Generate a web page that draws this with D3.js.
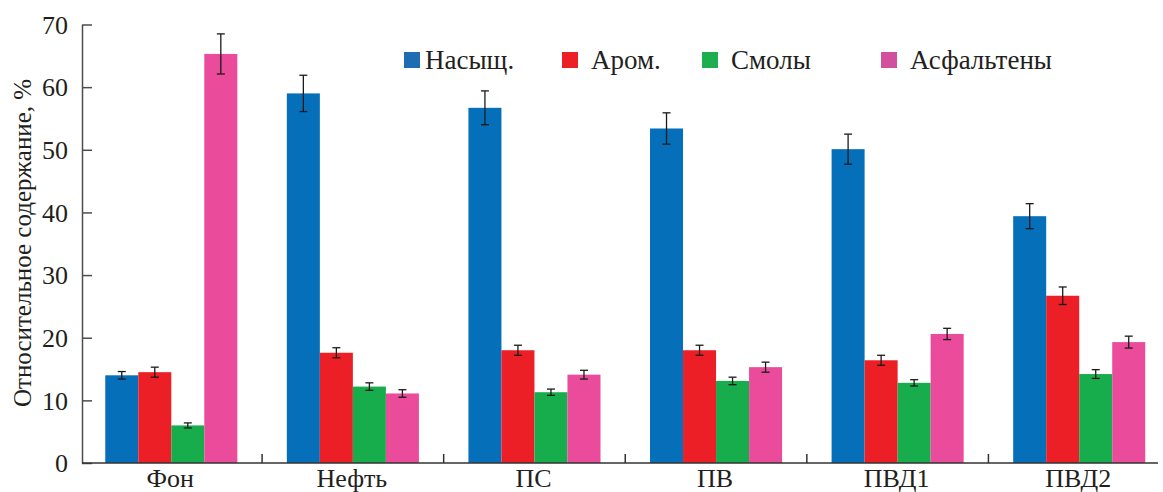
<!DOCTYPE html>
<html>
<head>
<meta charset="utf-8">
<script src="https://cdn.jsdelivr.net/npm/d3@7"></script>
<style>
  body { margin: 0; background: #fff; }
  svg text { font-family: "Liberation Serif", "Times New Roman", Tinos, "Noto Serif", "DejaVu Serif", serif; fill: #231f20; }
</style>
</head>
<body>
<svg id="chart"></svg>
<script>
// data
const categories = ["Фон", "Нефть", "ПС", "ПВ", "ПВД1", "ПВД2"];
const series = ["Насыщ.", "Аром.", "Смолы", "Асфальтены"];
const colors = ["#0570b9", "#ec1f27", "#17ad4d", "#ea4b9b"];
const legendColors = ["#1d6db3", "#ec1f27", "#1fae4d", "#d24f9d"];

const saturates = [14.0, 59.0, 56.7, 53.4, 50.1, 39.4];
const aromatics = [14.5, 17.6, 18.0, 18.0, 16.4, 26.7];
const resins = [6.0, 12.2, 11.3, 13.1, 12.8, 14.2];
const asphaltenes = [65.3, 11.1, 14.1, 15.3, 20.6, 19.3];

const errSat = [0.6, 2.9, 2.7, 2.5, 2.4, 2.0];
const errAro = [0.8, 0.8, 0.8, 0.8, 0.8, 1.4];
const errRes = [0.4, 0.6, 0.5, 0.6, 0.5, 0.7];
const errAsp = [3.2, 0.6, 0.7, 0.8, 0.9, 0.95];

const yTicks = [0, 10, 20, 30, 40, 50, 60, 70];

const values = [saturates, aromatics, resins, asphaltenes];
const errors = [errSat, errAro, errRes, errAsp];

const width = 1163, height = 492;
const svg = d3.select("#chart").attr("width", width).attr("height", height);
const serif = '"Liberation Serif", "Times New Roman", Tinos, "Noto Serif", "DejaVu Serif", serif';

const x = d3.scaleBand().domain(categories).range([80.5, 1170]);
const x1 = d3.scaleBand().domain(series).range([0, x.bandwidth()]).paddingOuter(0.75);
const y = d3.scaleLinear().domain([0, 70]).range([463, 24.5]);

// flatten into bar records
const bars = [];
categories.forEach((c, i) => {
  series.forEach((s, j) => {
    bars.push({ cat: c, ser: s, j: j, v: values[j][i], e: errors[j][i] });
  });
});

const g = svg.append("g");

g.selectAll("rect.bar")
  .data(bars)
  .join("rect")
  .attr("class", "bar")
  .attr("x", d => x(d.cat) + x1(d.ser))
  .attr("width", x1.bandwidth())
  .attr("y", d => y(d.v))
  .attr("height", d => y(0) - y(d.v))
  .attr("fill", d => colors[d.j]);

// error bars
const eb = g.selectAll("g.err").data(bars).join("g").attr("class", "err")
  .attr("stroke", "#1a1a1a").attr("stroke-width", 1.3);
const cx = d => x(d.cat) + x1(d.ser) + x1.bandwidth() / 2;
eb.append("line")
  .attr("x1", cx).attr("x2", cx)
  .attr("y1", d => y(d.v + d.e)).attr("y2", d => y(d.v - d.e));
eb.append("line")
  .attr("x1", d => cx(d) - 4).attr("x2", d => cx(d) + 4)
  .attr("y1", d => y(d.v + d.e)).attr("y2", d => y(d.v + d.e));
eb.append("line")
  .attr("x1", d => cx(d) - 4).attr("x2", d => cx(d) + 4)
  .attr("y1", d => y(d.v - d.e)).attr("y2", d => y(d.v - d.e));

// y axis
const yAxis = svg.append("g")
  .attr("transform", "translate(82,0)")
  .call(d3.axisLeft(y).tickValues(yTicks).tickSizeInner(-10).tickSizeOuter(0).tickPadding(14));
yAxis.attr("font-family", serif);
yAxis.select(".domain").attr("stroke", "#4d4d4d").attr("stroke-width", 1.5);
yAxis.selectAll(".tick line").attr("stroke", "#4d4d4d").attr("stroke-width", 1.5);
yAxis.selectAll(".tick text")
  .attr("font-size", 26)
  .attr("dy", "0.34em")
  .attr("fill", "#231f20");

// x axis line and separators
svg.append("line")
  .attr("x1", 82).attr("x2", 1158)
  .attr("y1", y(0)).attr("y2", y(0))
  .attr("stroke", "#333").attr("stroke-width", 1.5);
svg.selectAll("line.sep")
  .data(categories.slice(1))
  .join("line")
  .attr("class", "sep")
  .attr("x1", d => x(d)).attr("x2", d => x(d))
  .attr("y1", y(0)).attr("y2", y(0) - 9)
  .attr("stroke", "#333").attr("stroke-width", 1.5);

svg.selectAll("text.xlab")
  .data(categories)
  .join("text")
  .attr("class", "xlab")
  .attr("x", d => x(d) + x.bandwidth() / 2 - 1)
  .attr("y", 487)
  .attr("text-anchor", "middle")
  .attr("font-size", 26)
  .text(d => d);

// y title
svg.append("text")
  .attr("transform", "translate(31,243) rotate(-90)")
  .attr("text-anchor", "middle")
  .attr("font-size", 25)
  .text("Относительное содержание, %");

// legend
const legendX = [404, 562, 702, 881];
const lg = svg.selectAll("g.leg")
  .data(series)
  .join("g")
  .attr("class", "leg")
  .attr("transform", (d, i) => `translate(${legendX[i]},52)`);
lg.append("rect")
  .attr("width", 16).attr("height", 16)
  .attr("fill", (d, i) => legendColors[i]);
lg.append("text")
  .attr("x", (d, i) => i === 0 ? 21 : 29)
  .attr("y", 17)
  .attr("font-size", 27)
  .text(d => d);
</script>
</body>
</html>
